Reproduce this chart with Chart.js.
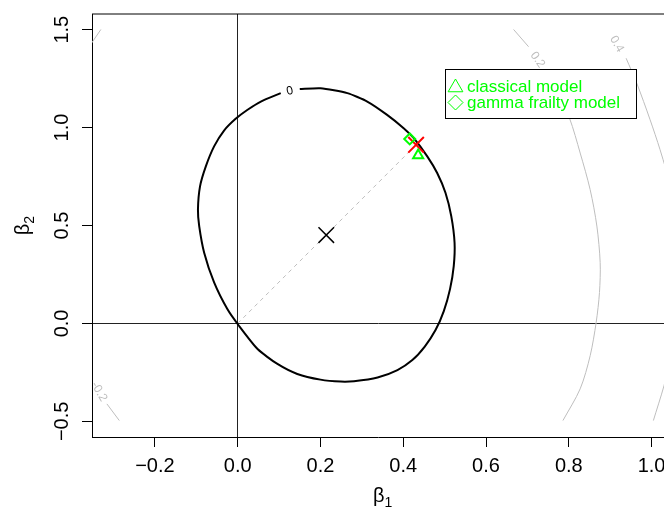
<!DOCTYPE html>
<html><head><meta charset="utf-8">
<script src="https://cdn.jsdelivr.net/npm/chart.js@4/dist/chart.umd.min.js"></script>
<style>html,body{margin:0;padding:0;background:#fff;overflow:hidden}#wrap{width:664px;height:508px}</style>
</head><body><div id="wrap"><canvas id="c" width="664" height="508"></canvas></div>
<script>
// ---- data ----
const xTicks = [-0.2, 0, 0.2, 0.4, 0.6, 0.8, 1.0];
const yTicks = [-0.5, 0, 0.5, 1.0, 1.5];
const xTitle = ['β', '1'];
const yTitle = ['β', '2'];

// contour level 0 (black)
const c0X = [0.150,0.200,0.265,0.313,0.361,0.401,0.425,0.458,0.482,0.502,0.516,0.524,0.522,0.513,0.498,0.478,0.452,0.422,0.386,0.338,0.281,0.249,0.200,0.144,0.096,0.048,0.003,-0.025,-0.057,-0.081,-0.093,-0.096,-0.091,-0.077,-0.057,-0.033,-0.005,0.023,0.056,0.104];
const c0Y = [1.197,1.201,1.176,1.133,1.065,0.997,0.947,0.853,0.768,0.667,0.548,0.412,0.293,0.175,0.063,-0.034,-0.118,-0.187,-0.238,-0.276,-0.295,-0.297,-0.287,-0.258,-0.207,-0.131,-0.012,0.073,0.209,0.361,0.497,0.582,0.700,0.802,0.904,0.985,1.045,1.090,1.133,1.176];

// grey contours
const g02aX = [0.6666, 0.7028], g02aY = [1.501, 1.413];
const g02bX = [0.7455,0.774,0.8017,0.8275,0.8516,0.8678,0.8758,0.8741,0.8661,0.8516,0.8275,0.7858];
const g02bY = [1.284,1.167,1.048,0.870,0.683,0.497,0.310,0.158,0.005,-0.165,-0.334,-0.496];
const g04bX = [0.9385,0.9643,0.9964,1.0205,1.049], g04bY = [1.354,1.226,1.040,0.887,0.683];
const g04cX = [1.045,1.030,1.0043], g04cY = [-0.182,-0.318,-0.496];
const gm02aX = [-0.360,-0.3305], gm02aY = [1.41,1.501];
const gm02bX = [-0.316,-0.286], gm02bY = [-0.411,-0.496];

// contour labels
const cLabText  = ['0', '0.2', '0.4', '-0.2'];
const cLabX     = [0.126, 0.7245, 0.916, -0.335];
const cLabY     = [1.187, 1.346, 1.426, -0.348];
const cLabAngle = [-12, 55, 60, 60];
const cLabColor = ['#000000', '#bebebe', '#bebebe', '#bebebe'];

// marks: fitted point (black x), direction point (red x), classical (triangle), gamma frailty (diamond)
const markX = [0.214, 0.431, 0.436, 0.4157];
const markY = [0.451, 0.912, 0.858, 0.942];
// dashed segment origin -> direction point
const dirX = [0, 0.431], dirY = [0, 0.912];

const legendLabels = ['classical model', 'gamma frailty model'];
const legendAnchor = [0.5, 1.3];

// ---- chart ----
const FONT = "'Liberation Sans', Arial, Helvetica, sans-serif";
const GREY = '#bebebe';
const GREEN = '#00ff00';
const pts = (xs, ys) => xs.map((x, i) => ({x, y: ys[i]}));
const lineDs = (xs, ys, color, width, order, dash, tension) => ({
  data: pts(xs, ys), showLine: true, borderColor: color, borderWidth: width,
  pointRadius: 0, pointHoverRadius: 0, tension: tension || 0, fill: false, order, borderDash: dash || []
});
const markDs = (i, style, r, color, bw) => ({
  data: [{x: markX[i], y: markY[i]}], showLine: false, pointStyle: style, pointRadius: r,
  pointHoverRadius: r, pointBorderColor: color, pointBackgroundColor: 'rgba(0,0,0,0)',
  pointBorderWidth: bw, pointHoverBorderWidth: bw, order: 0
});
const fmt = v => (v < 0 ? '\u2212' : '') + Math.abs(v).toFixed(1);

const decor = {
  id: 'decor',
  afterDatasetsDraw(chart) {
    const {ctx, chartArea: ca} = chart;
    const xs = chart.scales.x, ys = chart.scales.y;
    // contour labels
    ctx.save();
    ctx.beginPath(); ctx.rect(ca.left, ca.top, ca.right - ca.left, ca.bottom - ca.top); ctx.clip();
    ctx.font = '12px ' + FONT; ctx.textAlign = 'center'; ctx.textBaseline = 'middle';
    cLabText.forEach((t, i) => {
      ctx.save();
      ctx.translate(xs.getPixelForValue(cLabX[i]), ys.getPixelForValue(cLabY[i]));
      ctx.rotate(cLabAngle[i] * Math.PI / 180);
      ctx.fillStyle = cLabColor[i];
      ctx.fillText(t, 0, 0);
      ctx.restore();
    });
    ctx.restore();
    // legend
    const ax = Math.round(xs.getPixelForValue(legendAnchor[0])), ay = Math.round(ys.getPixelForValue(legendAnchor[1]));
    const w = 191, h = 49;
    ctx.save();
    ctx.fillStyle = '#fff'; ctx.fillRect(ax, ay, w, h);
    ctx.strokeStyle = '#000'; ctx.lineWidth = 1; ctx.strokeRect(ax + 0.5, ay + 0.5, w, h);
    ctx.strokeStyle = GREEN; ctx.fillStyle = GREEN;
    ctx.font = '17px ' + FONT; ctx.textAlign = 'left'; ctx.textBaseline = 'middle';
    const rows = [ay + 17, ay + 33.5];
    let cx = ax + 10.5, cy = rows[0] + 1.5, r = 8.5;
    ctx.beginPath();
    ctx.moveTo(cx, cy - r); ctx.lineTo(cx + r * 0.866, cy + r / 2); ctx.lineTo(cx - r * 0.866, cy + r / 2); ctx.closePath(); ctx.stroke();
    cy = rows[1]; r = 7.5;
    ctx.beginPath();
    ctx.moveTo(cx, cy - r); ctx.lineTo(cx + r, cy); ctx.lineTo(cx, cy + r); ctx.lineTo(cx - r, cy); ctx.closePath(); ctx.stroke();
    legendLabels.forEach((t, i) => ctx.fillText(t, ax + 22, rows[i] + 1));
    ctx.restore();
  },
  afterDraw(chart) {
    const {ctx, chartArea: ca} = chart;
    const xs = chart.scales.x;
    ctx.save();
    // top frame line
    ctx.strokeStyle = '#000'; ctx.lineWidth = 1;
    ctx.beginPath(); ctx.moveTo(ca.left, ca.top); ctx.lineTo(ca.right, ca.top); ctx.stroke();
    // x tick labels (drawn from the scale so they may run off the clipped right edge)
    ctx.fillStyle = '#000'; ctx.font = '20px ' + FONT; ctx.textAlign = 'center'; ctx.textBaseline = 'alphabetic';
    xTicks.forEach(v => ctx.fillText(fmt(v), xs.getPixelForValue(v), ca.bottom + 35));
    // axis titles with subscript
    ctx.textAlign = 'left';
    const big = '20px ' + FONT, small = '14px ' + FONT;
    ctx.font = big; const wb = ctx.measureText(xTitle[0]).width;
    ctx.font = small; const ws = ctx.measureText(xTitle[1]).width;
    const cxT = xs.getPixelForValue(0.35);
    let sx = cxT - (wb + ws) / 2;
    ctx.font = big; ctx.fillText(xTitle[0], sx, 502);
    ctx.font = small; ctx.fillText(xTitle[1], sx + wb, 507);
    const cyT = (ca.top + ca.bottom) / 2;
    ctx.translate(29, cyT); ctx.rotate(-Math.PI / 2);
    sx = -(wb + ws) / 2;
    ctx.font = big; ctx.fillText(yTitle[0], sx, 0);
    ctx.font = small; ctx.fillText(yTitle[1], sx + wb, 5);
    ctx.restore();
  }
};

new Chart(document.getElementById('c'), {
  type: 'scatter',
  data: {
    datasets: [
      markDs(2, 'triangle', 5.8, GREEN, 2),
      markDs(3, 'rectRot', 5.5, GREEN, 2),
      markDs(1, 'crossRot', 11, '#ff0000', 2),
      markDs(0, 'crossRot', 11, '#000000', 1.5),
      lineDs(c0X, c0Y, '#000000', 2, 1, null, 0.2),
      lineDs(dirX, dirY, GREY, 1, 2, [4, 4]),
      lineDs(g02aX, g02aY, GREY, 1, 3),
      lineDs(g02bX, g02bY, GREY, 1, 3, null, 0.3),
      lineDs(g04bX, g04bY, GREY, 1, 3, null, 0.3),
      lineDs(g04cX, g04cY, GREY, 1, 3, null, 0.3),
      lineDs(gm02aX, gm02aY, GREY, 1, 3),
      lineDs(gm02bX, gm02bY, GREY, 1, 3)
    ]
  },
  options: {
    responsive: false, animation: false, events: [],
    layout: {autoPadding: false, padding: {top: 14, right: 0, bottom: 0, left: 0}},
    plugins: {legend: {display: false}, tooltip: {enabled: false}, title: {display: false}},
    scales: {
      x: {
        type: 'linear', min: -0.352, max: 1.030,
        afterBuildTicks: s => { s.ticks = xTicks.map(v => ({value: v})); },
        afterFit: s => { s.height = 71; s.paddingLeft = 0; s.paddingRight = 0; },
        ticks: {display: false, autoSkip: false, maxRotation: 0, minRotation: 0},
        grid: {color: c => (c.tick && c.tick.value === 0) ? '#222' : 'rgba(0,0,0,0)', tickColor: '#000', tickLength: 10, lineWidth: 1, drawOnChartArea: true, drawTicks: true},
        border: {display: true, color: '#000', width: 1},
        title: {display: false}
      },
      y: {
        type: 'linear', min: -0.58, max: 1.58,
        afterBuildTicks: s => { s.ticks = yTicks.map(v => ({value: v})); },
        afterFit: s => { s.width = 92; s.paddingTop = 0; s.paddingBottom = 0; },
        ticks: {color: '#000', font: {family: FONT, size: 20}, padding: 0, autoSkip: false, minRotation: 90, maxRotation: 90, crossAlign: 'center', callback: fmt},
        grid: {color: c => (c.tick && c.tick.value === 0) ? '#222' : 'rgba(0,0,0,0)', tickColor: '#000', tickLength: 10, lineWidth: 1, drawOnChartArea: true, drawTicks: true},
        border: {display: true, color: '#000', width: 1},
        title: {display: false}
      }
    }
  },
  plugins: [decor]
});
</script>
</body></html>
